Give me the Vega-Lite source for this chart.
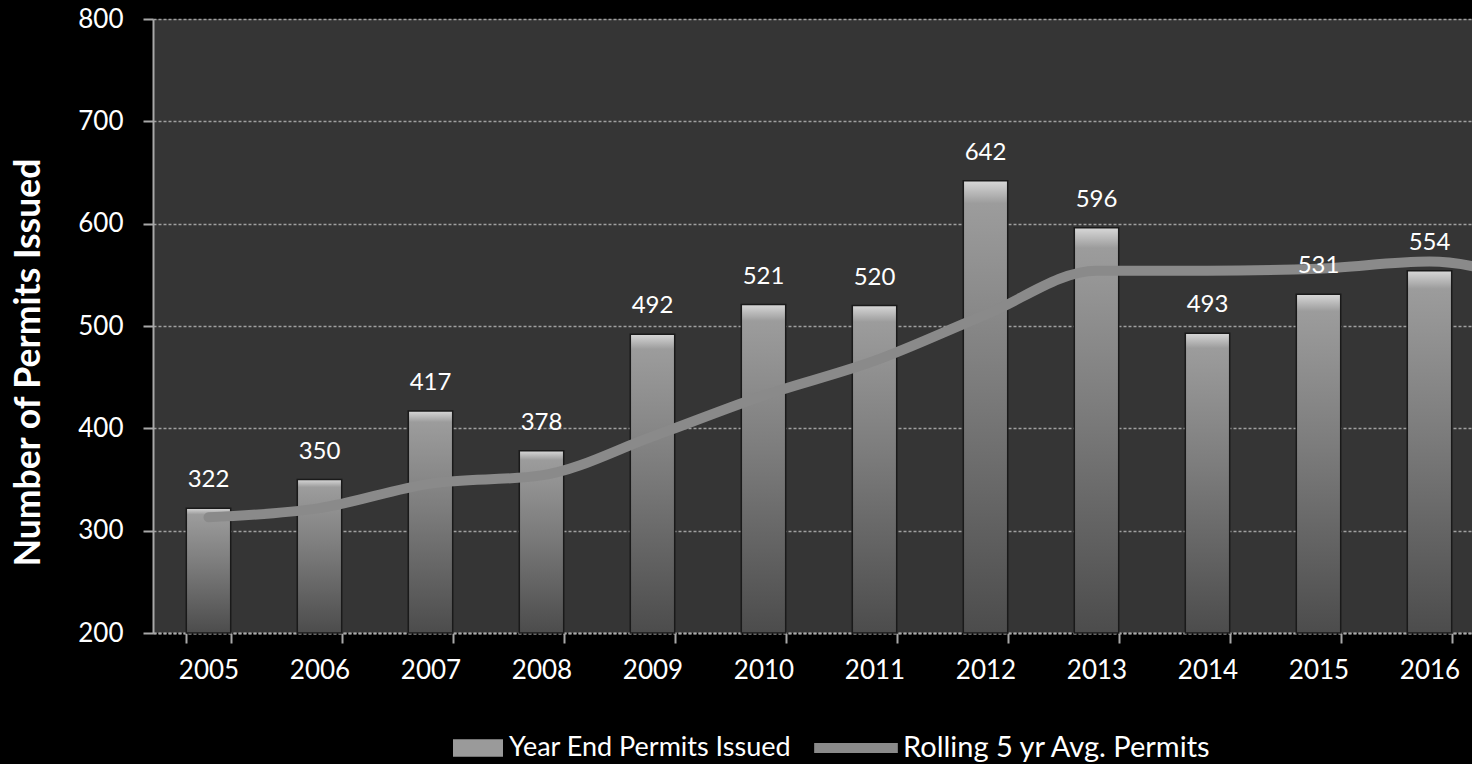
{
  "$schema": "https://vega.github.io/schema/vega-lite/v6.json",
  "autosize": "none",
  "width": 1319,
  "height": 614,
  "padding": {"left": 153, "top": 19, "right": 0, "bottom": 131},
  "background": "#000000",
  "config": {
    "view": {"fill": "#353535", "stroke": null},
    "font": "Lato",
    "axis": {
      "labelColor": "#ffffff",
      "labelFontSize": 26,
      "labelFont": "Lato",
      "domainColor": "#a8a8a8",
      "tickColor": "#a8a8a8",
      "gridColor": "#a0a0a0"
    },
    "legend": {"labelColor": "#ffffff", "labelFontSize": 27, "labelFont": "Lato", "labelLimit": 600}
  },
  "data": {
    "values": [
      {"year": "2005", "permits": 322, "avg": 313},
      {"year": "2006", "permits": 350, "avg": 322},
      {"year": "2007", "permits": 417, "avg": 346},
      {"year": "2008", "permits": 378, "avg": 354},
      {"year": "2009", "permits": 492, "avg": 392},
      {"year": "2010", "permits": 521, "avg": 432},
      {"year": "2011", "permits": 520, "avg": 466},
      {"year": "2012", "permits": 642, "avg": 511},
      {"year": "2013", "permits": 596, "avg": 554},
      {"year": "2014", "permits": 493, "avg": 554},
      {"year": "2015", "permits": 531, "avg": 556},
      {"year": "2016", "permits": 554, "avg": 563},
      {"year": "2017", "permits": null, "avg": 540}
    ]
  },
  "encoding": {
    "x": {
      "field": "year",
      "type": "ordinal",
      "sort": "ascending",
      "scale": {"range": [0, 1443], "paddingInner": 0.6, "paddingOuter": 0.3},
      "axis": {
        "title": null,
        "labelAngle": 0,
        "labelFontSize": 26,
        "tickBand": "extent",
        "tickSize": 10,
        "tickWidth": 2,
        "labelPadding": 14,
        "domainWidth": 2,
        "domainDash": [3, 2],
        "grid": false
      }
    },
    "y": {
      "field": "permits",
      "type": "quantitative",
      "scale": {"domain": [200, 800], "nice": false, "zero": false},
      "axis": {
        "title": "Number of Permits Issued",
        "titleColor": "#ffffff",
        "titleFontSize": 35.5,
        "titleFontWeight": "bold",
        "titleFont": "Lato",
        "titleAngle": -90,
        "titleX": -125,
        "titleY": 343,
        "titleAlign": "center",
        "titleBaseline": "middle",
        "values": [200, 300, 400, 500, 600, 700, 800],
        "labelFontSize": 26,
        "labelOverlap": false,
        "tickSize": 10,
        "tickWidth": 2,
        "labelPadding": 20,
        "domainWidth": 2,
        "grid": true,
        "gridDash": [3, 2],
        "gridWidth": 1.5
      }
    }
  },
  "layer": [
    {
      "mark": {"type": "bar"},
      "encoding": {
        "y2": {"datum": 200},
        "fill": {
          "datum": "Year End Permits Issued",
          "scale": {"range": ["#9a9a9a"]},
          "legend": {
            "title": null,
            "orient": "none",
            "legendX": 300,
            "legendY": 704,
            "symbolType": "M-1,-0.35H1V0.35H-1Z",
            "symbolSize": 2500,
            "symbolStrokeWidth": 0,
            "labelOffset": 6
          }
        }
      }
    },
    {
      "mark": {
        "type": "bar",
        "fill": {
          "gradient": "linear",
          "x1": 0, "y1": 0, "x2": 0, "y2": 1,
          "stops": [
            {"offset": 0, "color": "#d8d8d8"},
            {"offset": 0.05, "color": "#9c9c9c"},
            {"offset": 0.45, "color": "#7c7c7c"},
            {"offset": 1, "color": "#4c4c4c"}
          ]
        },
        "stroke": "#1a1a1a",
        "strokeWidth": 1.5
      },
      "encoding": {
        "y2": {"datum": 200}
      }
    },
    {
      "mark": {"type": "line", "interpolate": "monotone", "strokeWidth": 10, "strokeCap": "round"},
      "encoding": {
        "y": {"field": "avg", "type": "quantitative"},
        "stroke": {
          "datum": "Rolling 5 yr Avg. Permits",
          "scale": {"range": ["#8a8a8a"]},
          "legend": {
            "title": null,
            "orient": "none",
            "legendX": 656,
            "legendY": 682,
            "symbolType": "stroke",
            "symbolSize": 7000,
            "symbolStrokeWidth": 10,
            "labelOffset": 0,
            "labelFontSize": 29
          }
        }
      }
    },
    {
      "mark": {"type": "text", "color": "#ffffff", "fontSize": 24, "font": "Lato", "baseline": "alphabetic", "dy": -21},
      "encoding": {
        "text": {"field": "permits", "type": "quantitative"}
      }
    }
  ]
}
